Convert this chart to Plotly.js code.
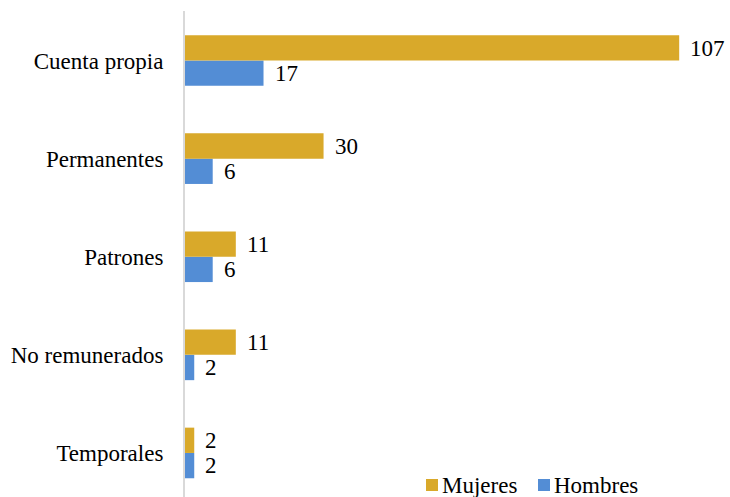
<!DOCTYPE html>
<html>
<head>
<meta charset="utf-8">
<script src="https://cdn.plot.ly/plotly-3.0.1.min.js"></script>
<style>html,body{margin:0;padding:0;background:#fff;}#chart{width:730px;height:497px;}
#chart svg text{font-family:'Liberation Serif','Times New Roman',serif !important;}</style>
</head>
<body>
<div id="chart"></div>
<script>
// Categories listed bottom to top
const categories = ["Temporales", "No remunerados", "Patrones", "Permanentes", "Cuenta propia"];
const mujeres = [2, 11, 11, 30, 107];
const hombres = [2, 2, 6, 6, 17];
const seriesNames = ["Mujeres", "Hombres"];

const goldColor = "#D9A92A";
const blueColor = "#538DD5";
const fontFam = "Times New Roman";
const FS = 23;

const traces = [
  { type: "bar", orientation: "h", name: seriesNames[1], y: categories, x: hombres,
    marker: { color: blueColor }, hoverinfo: "none", showlegend: false },
  { type: "bar", orientation: "h", name: seriesNames[0], y: categories, x: mujeres,
    marker: { color: goldColor }, hoverinfo: "none", showlegend: false }
];

const W = 730, H = 497, ML = 185, MR = 0, MT = 11, MB = 0;
const pw = W - ML - MR, ph = H - MT - MB;
const px = v => (v - ML) / pw;
const py = v => (H - MB - v) / ph;

const annotations = [];
categories.forEach((c, i) => {
  annotations.push({ x: mujeres[i], y: c, xref: "x", yref: "y", text: String(mujeres[i]),
    showarrow: false, xanchor: "left", yanchor: "middle", xshift: 9, yshift: 12.2,
    font: { family: fontFam, size: FS, color: "#000" } });
  annotations.push({ x: hombres[i], y: c, xref: "x", yref: "y", text: String(hombres[i]),
    showarrow: false, xanchor: "left", yanchor: "middle", xshift: 9, yshift: -13,
    font: { family: fontFam, size: FS, color: "#000" } });
});

// manual legend
const legendItems = [
  { name: seriesNames[0], color: goldColor, x0: 426 },
  { name: seriesNames[1], color: blueColor, x0: 538 }
];
const shapes = [];
legendItems.forEach(it => {
  shapes.push({ type: "rect", xref: "paper", yref: "paper",
    x0: px(it.x0), x1: px(it.x0 + 12), y0: py(491), y1: py(479),
    fillcolor: it.color, line: { width: 0 } });
  annotations.push({ xref: "paper", yref: "paper", x: px(it.x0 + 14), y: py(485.5),
    text: it.name, showarrow: false, xanchor: "left", yanchor: "middle",
    font: { family: fontFam, size: FS, color: "#000" } });
});

const layout = {
  width: W, height: H,
  margin: { l: ML, r: MR, t: MT, b: MB, autoexpand: false },
  paper_bgcolor: "#fff", plot_bgcolor: "#fff",
  font: { family: fontFam, size: FS, color: "#000" },
  barmode: "group", bargap: 0.484, bargroupgap: 0,
  showlegend: false,
  xaxis: { range: [0, 118], showgrid: false, zeroline: false, showline: false,
    showticklabels: false, ticks: "", fixedrange: true },
  yaxis: { type: "category", categoryorder: "array", categoryarray: categories,
    range: [-0.449, 4.505], showgrid: false, zeroline: false,
    showline: true, linecolor: "#D9D9D9", linewidth: 2, ticks: "",
    ticklabelstandoff: 15, tickfont: { family: fontFam, size: FS, color: "#000" }, fixedrange: true },
  annotations: annotations,
  shapes: shapes
};

Plotly.newPlot("chart", traces, layout, { displayModeBar: false, staticPlot: true });
</script>
</body>
</html>
